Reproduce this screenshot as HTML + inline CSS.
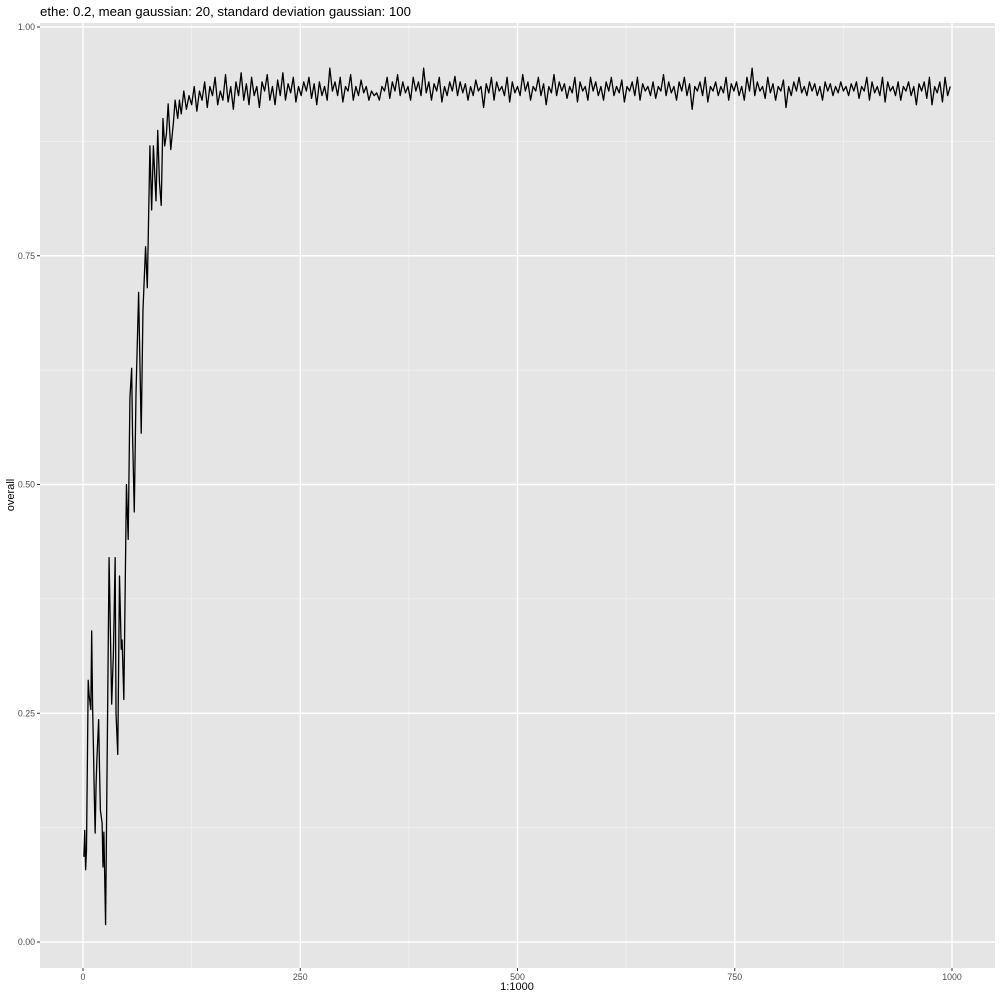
<!DOCTYPE html>
<html><head><meta charset="utf-8"><style>
body{margin:0;background:#fff;}
svg{display:block;font-family:"Liberation Sans",sans-serif;}
</style></head><body>
<svg id="chart" width="1000" height="1000" xmlns="http://www.w3.org/2000/svg">
<text x="40" y="16" font-size="13.2" fill="#000">ethe: 0.2, mean gaussian: 20, standard deviation gaussian: 100</text>
<rect x="40" y="23" width="955" height="945" fill="#e5e5e5"/>
<g id="grid"></g>
<g id="axes"></g>
<path id="line" fill="none" stroke="#000" stroke-width="1.3" stroke-linejoin="round"/>
<text x="517" y="990" font-size="11" text-anchor="middle" fill="#000">1:1000</text>
<text transform="translate(14,495) rotate(-90)" font-size="11" text-anchor="middle" fill="#000">overall</text>
</svg>
<script>
const earlyX=[1,2,3,4,6,7,9,10,11,12,13,14,15,16,18,19,20,22,23,24,26,30,33,35,37,38,40,42,44,45,47,50,52,54,56,57,59,61,64,67,69,72,74,77,79,81,84,86,88,90,92,94,96,98,101,104,106,109,111];
const earlyY=[.093,.122,.079,.10,.286,.27,.254,.34,.26,.213,.16,.119,.17,.20,.243,.19,.144,.13,.082,.12,.019,.42,.26,.316,.42,.25,.205,.40,.32,.33,.265,.50,.44,.595,.627,.556,.47,.60,.71,.556,.69,.76,.715,.87,.80,.87,.81,.887,.83,.805,.90,.87,.883,.916,.866,.895,.92,.90,.92];
const plateauStart=113, plateauStep=3;
const plateauY=[
.905,.93,.91,.925,.915,.935,.908,.93,.92,.94,.912,.935,.925,.945,.915,.93,.92,.948,.918,.935,
.91,.94,.925,.95,.92,.938,.915,.945,.925,.935,.912,.94,.93,.948,.92,.935,.915,.942,.925,.95,
.92,.938,.928,.945,.918,.935,.925,.94,.93,.945,.922,.938,.915,.94,.925,.935,.92,.955,.93,.94,
.925,.945,.918,.935,.93,.948,.92,.935,.925,.942,.928,.935,.92,.93,.925,.928,.92,.935,.93,.945,
.922,.94,.93,.948,.925,.94,.928,.935,.92,.945,.93,.94,.925,.955,.928,.94,.92,.938,.93,.945,
.918,.935,.925,.94,.93,.946,.925,.94,.928,.938,.92,.935,.925,.942,.93,.935,.912,.938,.928,.945,
.92,.94,.93,.935,.925,.945,.918,.94,.928,.935,.925,.948,.93,.94,.92,.935,.93,.945,.925,.938,
.915,.935,.928,.948,.925,.94,.93,.938,.922,.935,.928,.945,.918,.94,.93,.935,.92,.945,.93,.94,
.925,.935,.92,.94,.93,.945,.925,.935,.928,.942,.918,.935,.93,.94,.925,.945,.92,.938,.93,.935,
.925,.94,.922,.935,.93,.948,.925,.94,.928,.935,.92,.94,.93,.945,.925,.938,.91,.935,.93,.94,
.925,.945,.918,.935,.93,.94,.925,.935,.928,.945,.92,.938,.93,.94,.925,.935,.92,.945,.93,.955,
.925,.94,.93,.935,.922,.945,.928,.938,.92,.935,.93,.942,.912,.935,.925,.94,.93,.945,.928,.935,
.925,.94,.93,.938,.925,.935,.92,.94,.93,.938,.925,.935,.928,.94,.93,.935,.925,.938,.93,.94,
.922,.935,.93,.945,.92,.94,.928,.935,.925,.945,.918,.94,.93,.935,.925,.94,.92,.935,.93,.94,
.925,.935,.915,.938,.93,.94,.922,.945,.915,.935,.928,.94,.918,.945,.925,.935,.92,.94,.93,.928
];
const xTicks=[0,250,500,750,1000];
const xTickLabels=["0","250","500","750","1000"];
const yTicks=[0,0.25,0.5,0.75,1];
const yTickLabels=["0.00","0.25","0.50","0.75","1.00"];
const xMinor=[125,375,625,875];
const yMinor=[0.125,0.375,0.625,0.875];

const xs=(v)=>83+v*0.869;
const ys=(v)=>942-v*915;
const NS="http://www.w3.org/2000/svg";
const grid=document.getElementById('grid'), axes=document.getElementById('axes');
function ln(parent,x1,y1,x2,y2,c,w){const l=document.createElementNS(NS,'line');l.setAttribute('x1',x1);l.setAttribute('y1',y1);l.setAttribute('x2',x2);l.setAttribute('y2',y2);l.setAttribute('stroke',c);l.setAttribute('stroke-width',w);parent.appendChild(l);return l;}
function tx(parent,x,y,s,anchor){const t=document.createElementNS(NS,'text');t.setAttribute('x',x);t.setAttribute('y',y);t.setAttribute('font-size','8.8');t.setAttribute('fill','#4d4d4d');t.setAttribute('text-anchor',anchor);t.textContent=s;parent.appendChild(t);return t;}
xMinor.forEach(v=>{const l=ln(grid,xs(v),23,xs(v),968,'#f2f2f2',0.7);

});
yMinor.forEach(v=>{const l=ln(grid,40,ys(v),995,ys(v),'#f2f2f2',0.7);

});
xTicks.forEach((v,i)=>{const l=ln(grid,xs(v),23,xs(v),968,'#fff',1.4);


const k=ln(axes,xs(v),968,xs(v),971,'#333',1);


const t=tx(axes,xs(v),980,xTickLabels[i],'middle');

});
yTicks.forEach((v,i)=>{const l=ln(grid,40,ys(v),995,ys(v),'#fff',1.4);


const k=ln(axes,37,ys(v),40,ys(v),'#333',1);


const t=tx(axes,35,ys(v)+3,yTickLabels[i],'end');

});
const px=earlyX.slice(), py=earlyY.slice();
plateauY.forEach((v,i)=>{const x=plateauStart+i*plateauStep; if(x<=1000){px.push(x);py.push(v);}});
document.getElementById('line').setAttribute('d',px.map((x,i)=>(i?'L':'M')+xs(x).toFixed(2)+','+ys(py[i]).toFixed(2)).join(''));
</script>
</body></html>
